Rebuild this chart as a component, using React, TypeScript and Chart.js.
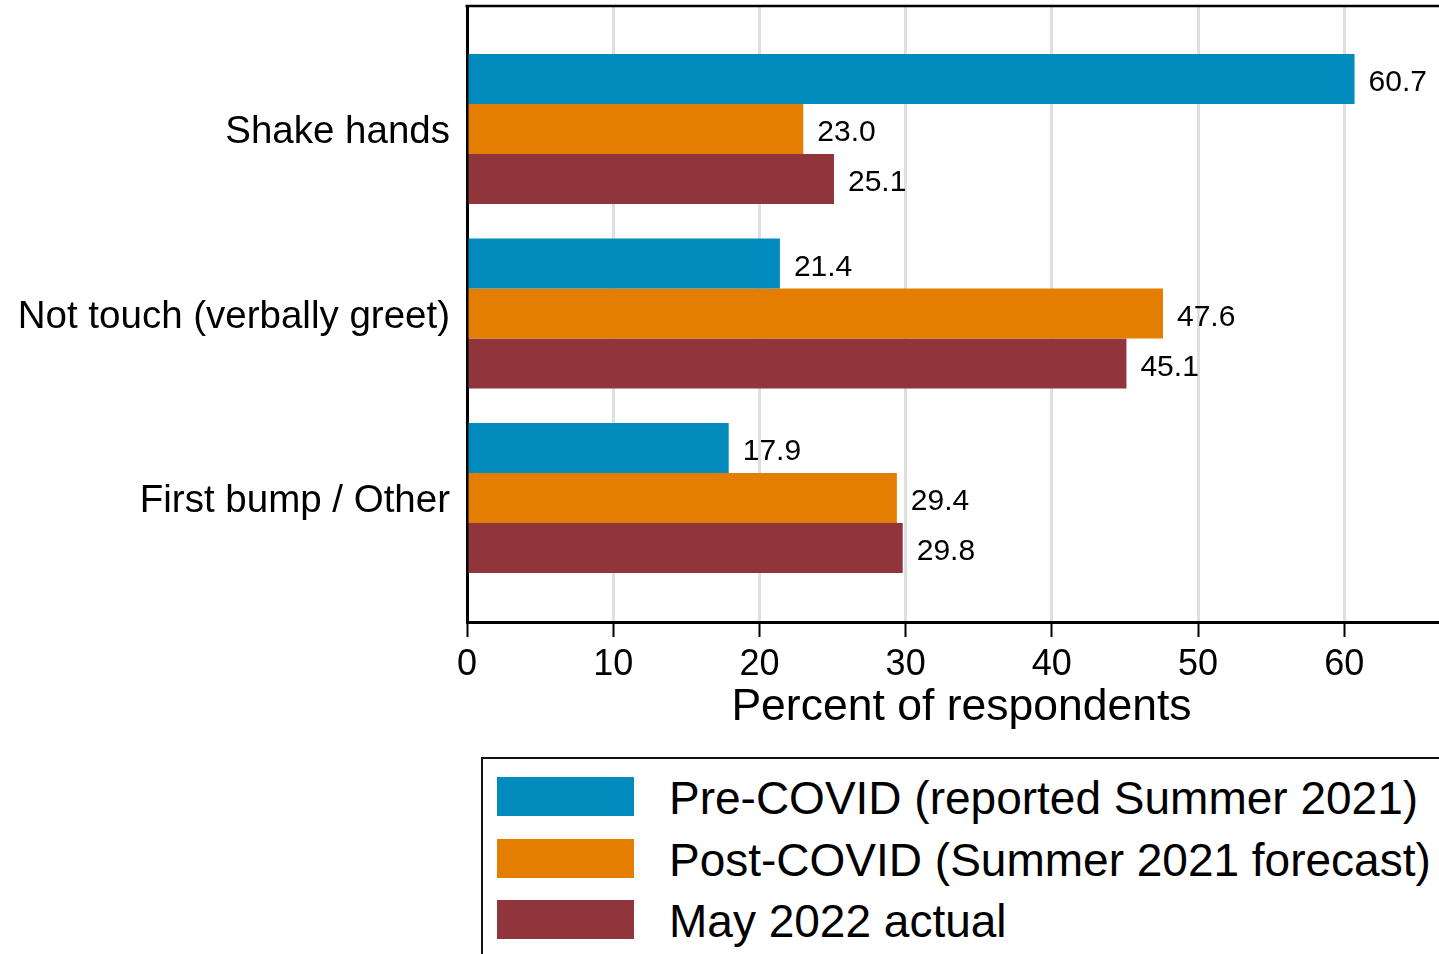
import React, { useEffect, useRef } from "react";
import { Chart, registerables } from "chart.js";

Chart.register(...registerables);

// ---- data ----
const categories = ["Shake hands", "Not touch (verbally greet)", "First bump / Other"];
const seriesNames = [
  "Pre-COVID (reported Summer 2021)",
  "Post-COVID (Summer 2021 forecast)",
  "May 2022 actual",
];
const preCovid = [60.7, 21.4, 17.9];
const postCovid = [23.0, 47.6, 29.4];
const may2022 = [25.1, 45.1, 29.8];
const xTicks = [0, 10, 20, 30, 40, 50, 60];
const xMin = 0;
const xMax = 67.64;
const yMin = -0.667;
const yMax = 2.672;
const axisTitle = "Percent of respondents";

const seriesValues = [preCovid, postCovid, may2022];
const colors = ["#028bbd", "#e37e00", "#8f353b"];
const FONT = "'Liberation Sans', Arimo, Arial, Helvetica, sans-serif";

const W = 1456;
const H = 734;
const LABEL_NUDGE = 0.02; // small downward nudge of category labels (in category units)

export default function App() {
  const ref = useRef<HTMLCanvasElement | null>(null);

  useEffect(() => {
    if (!ref.current) return;
    const valueLabels = {
      id: "valueLabels",
      afterDatasetsDraw(chart: any) {
        const ctx = chart.ctx;
        ctx.save();
        ctx.font = `30px ${FONT}`;
        ctx.fillStyle = "#000";
        ctx.textBaseline = "middle";
        ctx.textAlign = "left";
        chart.data.datasets.forEach((_: any, i: number) => {
          const meta = chart.getDatasetMeta(i);
          meta.data.forEach((bar: any, j: number) => {
            ctx.fillText(seriesValues[i][j].toFixed(1), bar.x + 14, bar.y + 4);
          });
        });
        const ca = chart.chartArea;
        ctx.strokeStyle = "#000";
        ctx.lineWidth = 2.5;
        ctx.beginPath();
        ctx.moveTo(ca.left - 1.5, ca.top);
        ctx.lineTo(ca.right, ca.top);
        ctx.stroke();
        ctx.restore();
      },
    };

    const chart = new Chart(ref.current, {
      type: "bar",
      data: {
        datasets: seriesValues.map((vals, i) => ({
          label: seriesNames[i],
          data: vals.map((v, j) => ({ x: v, y: j })),
          backgroundColor: colors[i],
          borderWidth: 0,
          categoryPercentage: 0.813,
          barPercentage: 1,
        })),
      },
      options: {
        indexAxis: "y",
        animation: false,
        responsive: false,
        maintainAspectRatio: false,
        layout: { padding: { top: 6, left: 0, right: 0, bottom: 0 } },
        plugins: {
          legend: { display: false },
          tooltip: { enabled: false },
        },
        scales: {
          x: {
            type: "linear",
            position: "bottom",
            min: xMin,
            max: xMax,
            afterBuildTicks: (s: any) => {
              s.ticks = xTicks.map((v) => ({ value: v }));
            },
            afterFit: (s: any) => {
              s.height = H - 622;
              s.paddingLeft = 0;
              s.paddingRight = 0;
            },
            grid: {
              color: "#dfdfdf",
              lineWidth: 3,
              tickColor: "#000",
              tickWidth: 2,
              tickLength: 15,
            },
            border: { display: true, color: "#000", width: 3 },
            ticks: {
              color: "#000",
              font: { family: FONT, size: 36 },
              padding: 6,
              maxRotation: 0,
              autoSkip: false,
            },
            title: {
              display: true,
              text: axisTitle,
              color: "#000",
              font: { family: FONT, size: 44.5 },
              padding: 0,
            },
          },
          y: {
            type: "linear",
            offset: false,
            reverse: true,
            min: yMin,
            max: yMax,
            afterBuildTicks: (s: any) => {
              s.ticks = categories.map((_, i) => ({ value: i + LABEL_NUDGE }));
            },
            afterFit: (s: any) => {
              s.width = 467;
              s.paddingTop = 0;
              s.paddingBottom = 0;
            },
            grid: { display: false, drawTicks: false, offset: false },
            border: { display: true, color: "#000", width: 3 },
            ticks: {
              color: "#000",
              font: { family: FONT, size: 38.5 },
              padding: 17,
              autoSkip: false,
              callback: (v: any) => categories[Math.round(v as number)] ?? "",
            },
          },
        },
      } as any,
      plugins: [valueLabels],
    });
    return () => chart.destroy();
  }, []);

  return (
    <div
      style={{
        position: "fixed",
        left: 0,
        top: 0,
        width: 1439,
        height: 954,
        overflow: "hidden",
        background: "#fff",
        fontFamily: FONT,
      }}
    >
      <canvas
        ref={ref}
        width={W}
        height={H}
        style={{ position: "absolute", left: 0, top: 0, width: W, height: H }}
      />
      <div
        style={{
          position: "absolute",
          left: 481,
          top: 757,
          width: 1100,
          height: 400,
          border: "2px solid #111",
          boxSizing: "border-box",
        }}
      >
        {seriesNames.map((name, i) => (
          <div key={name}>
            <div
              style={{
                position: "absolute",
                left: 14,
                top: 18 + i * 61.5,
                width: 137,
                height: 39,
                background: colors[i],
              }}
            />
            <div
              style={{
                position: "absolute",
                left: 186,
                top: 18 + i * 61.5,
                height: 39,
                lineHeight: "42px",
                fontSize: 46,
                color: "#000",
                whiteSpace: "nowrap",
              }}
            >
              {name}
            </div>
          </div>
        ))}
      </div>
    </div>
  );
}
